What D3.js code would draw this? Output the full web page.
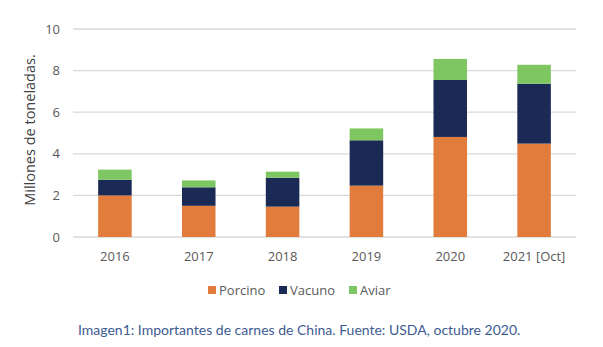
<!DOCTYPE html>
<html>
<head>
<meta charset="utf-8">
<script src="https://cdn.jsdelivr.net/npm/d3@7"></script>
<style>
  body { margin: 0; background: #fff; }
  svg { display: block; }
</style>
</head>
<body>
<svg id="chart" width="603" height="347"></svg>
<script>
// data (millions of tonnes)
var years = ["2016", "2017", "2018", "2019", "2020", "2021 [Oct]"];
var porcino = [2.0, 1.5, 1.46, 2.47, 4.81, 4.49];
var vacuno = [0.75, 0.89, 1.39, 2.18, 2.74, 2.88];
var aviar = [0.49, 0.33, 0.29, 0.57, 1.01, 0.91];
var seriesNames = ["Porcino", "Vacuno", "Aviar"];
var yTicks = [0, 2, 4, 6, 8, 10];

var colors = { Porcino: "#e27c3c", Vacuno: "#1b2a55", Aviar: "#7dc662" };

var rows = years.map(function (y, i) {
    return { year: y, Porcino: porcino[i], Vacuno: vacuno[i], Aviar: aviar[i] };
});

var svg = d3.select("#chart");
var plotLeft = 73, plotRight = 576, plotTop = 29, plotBottom = 237;

var x = d3.scaleBand()
    .domain(years)
    .range([plotLeft, plotRight])
    .paddingInner(0.6)
    .paddingOuter(0.3);

var y = d3.scaleLinear()
    .domain([0, 10])
    .range([plotBottom, plotTop]);

// gridlines
svg.append("g")
    .selectAll("line")
    .data(yTicks)
    .enter().append("line")
    .attr("x1", plotLeft)
    .attr("x2", plotRight)
    .attr("y1", function (d) { return y(d); })
    .attr("y2", function (d) { return y(d); })
    .attr("stroke", "#d9d9d9")
    .attr("stroke-width", 1.3);

// y tick labels
svg.append("g")
    .selectAll("text")
    .data(yTicks)
    .enter().append("text")
    .attr("x", 60)
    .attr("y", function (d) { return y(d); })
    .attr("dy", "0.35em")
    .attr("text-anchor", "end")
    .attr("font-family", "Open Sans, sans-serif")
    .attr("font-size", 13)
    .attr("fill", "#595959")
    .text(function (d) { return d; });

// y title
svg.append("text")
    .attr("transform", "translate(35,130) rotate(-90)")
    .attr("text-anchor", "middle")
    .attr("font-family", "Open Sans, sans-serif")
    .attr("font-size", 14.5)
    .attr("fill", "#404040")
    .text("Millones de toneladas.");

// stacked bars
var stack = d3.stack().keys(seriesNames)(rows);

svg.append("g")
    .selectAll("g")
    .data(stack)
    .enter().append("g")
    .attr("fill", function (d) { return colors[d.key]; })
    .selectAll("rect")
    .data(function (d) { return d; })
    .enter().append("rect")
    .attr("x", function (d) { return x(d.data.year); })
    .attr("width", x.bandwidth())
    .attr("y", function (d) { return y(d[1]); })
    .attr("height", function (d) { return y(d[0]) - y(d[1]); });

// x labels
svg.append("g")
    .selectAll("text")
    .data(years)
    .enter().append("text")
    .attr("x", function (d) { return x(d) + x.bandwidth() / 2; })
    .attr("y", 256)
    .attr("dy", "0.35em")
    .attr("text-anchor", "middle")
    .attr("font-family", "Open Sans, sans-serif")
    .attr("font-size", 13)
    .attr("fill", "#595959")
    .text(function (d) { return d; });

// legend
var legendX = [208, 279, 349];
var legend = svg.append("g")
    .selectAll("g")
    .data(seriesNames)
    .enter().append("g")
    .attr("transform", function (d, i) { return "translate(" + legendX[i] + ",290)"; });

legend.append("rect")
    .attr("x", 0)
    .attr("y", -4)
    .attr("width", 8)
    .attr("height", 8)
    .attr("fill", function (d) { return colors[d]; });

legend.append("text")
    .attr("x", 11)
    .attr("y", 0)
    .attr("dy", "0.35em")
    .attr("font-family", "Open Sans, sans-serif")
    .attr("font-size", 13)
    .attr("fill", "#595959")
    .text(function (d) { return d; });

// caption
svg.append("text")
    .attr("x", 78)
    .attr("y", 330)
    .attr("dy", "0.35em")
    .attr("font-family", "Lato, sans-serif")
    .attr("font-size", 14)
    .attr("fill", "#3e5b92")
    .text("Imagen1: Importantes de carnes de China. Fuente: USDA, octubre 2020.");
</script>
</body>
</html>
